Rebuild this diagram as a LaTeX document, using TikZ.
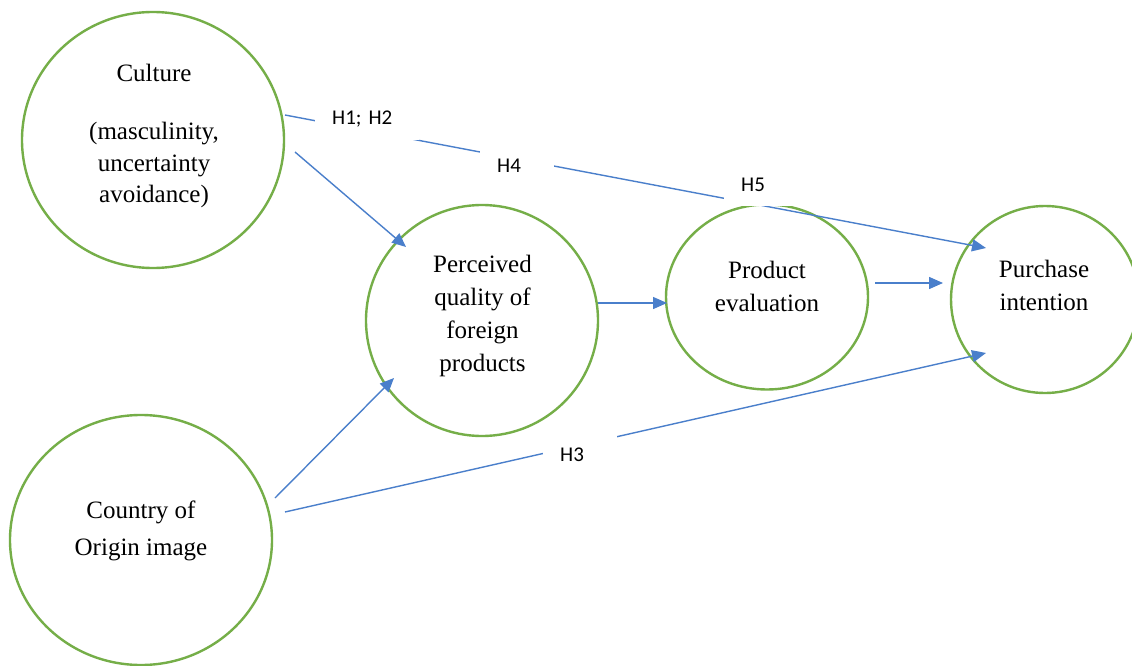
\documentclass[tikz,border=0pt]{standalone}
\usepackage{fontspec}
\setmainfont{Liberation Serif}
\newfontfamily\labelfont{Carlito}
\usetikzlibrary{arrows.meta,shapes.geometric,calc}
\definecolor{cgreen}{RGB}{117,174,72}
\definecolor{cblue}{RGB}{74,127,203}
\begin{document}
\begin{tikzpicture}[x=1pt,y=-1pt,
  circ/.style={ellipse, draw=cgreen, line width=2.4pt, inner sep=0pt},
  ctext/.style={align=center, font=\fontsize{25pt}{33pt}\selectfont},
  arr/.style={draw=cblue, line width=1.4pt, -{Triangle[length=14pt,width=12pt]}},
  hlab/.style={fill=white, font=\labelfont\fontsize{21pt}{24pt}\selectfont, anchor=west,
    inner xsep=17pt, inner ysep=0pt, minimum height=42pt, align=left, text width=40pt}]
\fill[white] (0,0) rectangle (1132,666);
\useasboundingbox (0,0) rectangle (1132,666);
% circles
\node[circ, minimum width=262pt, minimum height=256pt] (culture) at (153,140) {};
\node[circ, minimum width=262pt, minimum height=250pt] (country) at (141,540) {};
\node[circ, minimum width=232pt, minimum height=231pt] (perc) at (482,320.5) {};
\node[circ, minimum width=202pt, minimum height=185pt] (prod) at (767,297) {};
\node[circ, minimum width=188pt, minimum height=187pt] (purch) at (1045,299.5) {};
% texts
\node[ctext, font=\fontsize{25pt}{31.5pt}\selectfont] (culturet) at (154,136)
  {Culture\\[26.5pt](masculinity,\\uncertainty\\avoidance)};
\node[ctext, font=\fontsize{25pt}{37pt}\selectfont] (countryt) at (141,531)
  {Country of\\Origin image};
\node[ctext] (perct) at (482.5,316) {Perceived\\quality of\\foreign\\products};
\node[ctext] (prodt) at (767,286) {Product\\evaluation};
\node[ctext] (purcht) at (1044,285) {Purchase\\intention};
% connectors
\draw[arr] ($(culture)+(132,-25)$) -- ($(purch)+(-59,-51.5)$);
\draw[arr] ($(culture)+(142,12)$) -- ($(perc)+(-76,-73.5)$);
\draw[arr] ($(country)+(134,-42)$) -- ($(perc)+(-88,57.5)$);
\draw[arr] ($(country)+(144,-28)$) -- ($(purch)+(-59,53.5)$);
\draw[arr] ($(perc)+(116,-17.5)$) -- ($(prod)+(-100,6)$);
\draw[arr] ($(prod)+(108,-14)$) -- ($(purch)+(-102,-16.5)$);
% labels
\node[hlab, text width=70pt] (h12) at (315,119) {H1; H2};
\node[hlab] (h4) at (480,166) {H4};
\node[hlab] (h5) at (724,185) {H5};
\node[hlab] (h3) at (543,455) {H3};
\end{tikzpicture}
\end{document}
